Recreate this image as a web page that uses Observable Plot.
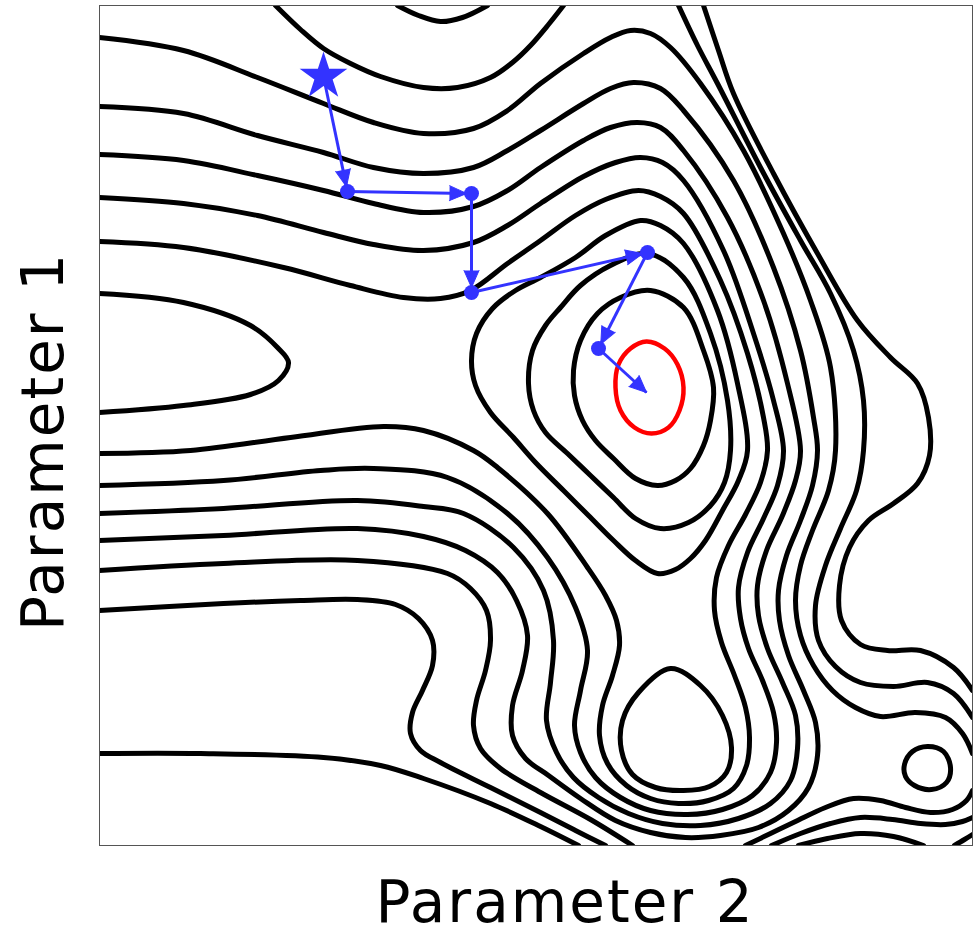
<!DOCTYPE html>
<html><head><meta charset="utf-8">
<script src="https://cdn.jsdelivr.net/npm/d3@7"></script>
<script src="https://cdn.jsdelivr.net/npm/@observablehq/plot@0.6"></script>
<style>html,body{margin:0;padding:0;background:#fff;} svg{display:block;}</style>
</head><body><div id="chart"></div>
<script>
// ---- Contour lines of the loss surface (Parameter 2 = x, Parameter 1 = y) ----
const contourA = [[1.76,8.40],[2.01,8.16],[2.24,7.97],[2.51,7.82],[2.81,7.69],[3.24,7.58],[3.58,7.58],[3.91,7.68],[4.13,7.83],[4.31,8.00],[4.49,8.21],[4.64,8.40]];
const contourB = [[2.98,8.40],[3.19,8.30],[3.41,8.24],[3.63,8.28],[3.88,8.40]];
const contourL1 = [[0.00,8.08],[0.84,7.95],[1.58,7.68],[2.24,7.42],[2.74,7.23],[3.24,7.12],[3.74,7.17],[4.08,7.35],[4.41,7.62],[4.84,7.92],[5.11,8.08],[5.31,8.15],[5.51,8.12],[5.71,7.98],[6.01,7.62],[6.44,6.95],[6.84,6.12],[7.11,5.45],[7.31,4.78],[7.36,3.95],[7.29,3.55],[7.13,3.15],[7.01,2.80],[6.96,2.45],[7.01,2.10],[7.14,1.80],[7.33,1.55],[7.56,1.38],[7.81,1.29],[8.16,1.33],[8.46,1.28],[8.63,1.12],[8.73,0.92]];
const contourL2 = [[0.00,7.39],[0.84,7.32],[1.58,7.10],[2.24,6.93],[2.74,6.78],[3.24,6.72],[3.74,6.78],[4.08,6.95],[4.41,7.15],[4.84,7.42],[5.11,7.57],[5.34,7.63],[5.61,7.57],[5.84,7.35],[6.34,6.65],[6.74,5.78],[7.01,4.95],[7.14,4.28],[7.18,3.95],[7.13,3.60],[7.01,3.25],[6.87,2.90],[6.79,2.55],[6.80,2.25],[6.89,1.90],[7.04,1.55],[7.16,1.23],[7.18,0.90],[7.09,0.58],[6.89,0.35],[6.59,0.18],[6.21,0.10],[5.86,0.08],[5.51,0.13],[5.16,0.25],[4.81,0.47],[4.49,0.70],[4.26,0.87],[4.13,1.10],[4.13,1.40],[4.23,1.75],[4.28,2.10],[4.17,2.45],[3.98,2.73],[3.66,2.95],[3.24,3.09],[2.58,3.17],[1.24,3.10],[0.00,3.05]];
const contourL3 = [[0.00,6.91],[0.84,6.85],[1.58,6.70],[2.24,6.55],[2.74,6.42],[3.24,6.33],[3.74,6.39],[4.08,6.55],[4.41,6.78],[4.84,7.05],[5.11,7.18],[5.38,7.23],[5.61,7.18],[5.84,6.95],[6.28,6.28],[6.64,5.45],[6.88,4.62],[7.01,3.95],[6.96,3.65],[6.83,3.30],[6.67,2.95],[6.58,2.60],[6.59,2.30],[6.68,1.97],[6.83,1.63],[6.96,1.30],[6.98,0.97],[6.91,0.65],[6.71,0.42],[6.39,0.27],[6.01,0.20],[5.63,0.22],[5.29,0.32],[4.99,0.48],[4.74,0.68],[4.57,0.93],[4.47,1.25],[4.51,1.63],[4.54,2.05],[4.44,2.55],[4.14,2.98],[3.64,3.32],[3.24,3.39],[2.58,3.45],[1.24,3.37],[0.00,3.32]];
const contourL4 = [[0.00,6.48],[0.84,6.42],[1.58,6.30],[2.24,6.13],[2.74,6.01],[3.24,5.95],[3.74,6.03],[4.08,6.20],[4.41,6.42],[4.84,6.69],[5.16,6.83],[5.41,6.88],[5.63,6.83],[5.84,6.65],[6.24,5.95],[6.54,5.12],[6.74,4.45],[6.84,3.95],[6.78,3.60],[6.64,3.27],[6.48,2.93],[6.39,2.58],[6.41,2.27],[6.49,1.97],[6.63,1.65],[6.74,1.33],[6.77,1.03],[6.71,0.73],[6.53,0.50],[6.23,0.36],[5.88,0.31],[5.51,0.35],[5.21,0.48],[4.96,0.68],[4.81,0.93],[4.75,1.20],[4.81,1.55],[4.88,1.95],[4.76,2.38],[4.48,2.88],[4.08,3.32],[3.48,3.68],[2.74,3.77],[2.21,3.75],[1.24,3.65],[0.00,3.60]];
const contourL5 = [[0.00,6.04],[0.84,5.98],[1.84,5.78],[2.51,5.60],[3.04,5.48],[3.41,5.47],[3.71,5.55],[4.08,5.82],[4.41,6.05],[4.76,6.30],[5.06,6.46],[5.39,6.55],[5.61,6.49],[5.84,6.32],[6.21,5.65],[6.48,4.92],[6.64,4.28],[6.68,3.95],[6.61,3.63],[6.46,3.31],[6.29,3.00],[6.17,2.68],[6.15,2.35],[6.22,2.03],[6.35,1.70],[6.46,1.38],[6.50,1.08],[6.47,0.80],[6.34,0.57],[6.09,0.45],[5.79,0.42],[5.51,0.47],[5.27,0.60],[5.08,0.82],[5.00,1.10],[5.03,1.40],[5.13,1.70],[5.20,2.00],[5.17,2.25],[5.06,2.50],[4.88,2.78],[4.48,3.32],[3.98,3.78],[3.74,3.95],[3.24,4.15],[2.84,4.19],[1.91,4.08],[0.91,3.95],[0.00,3.92]];
const contourTongue = [[0.00,5.52],[0.84,5.43],[1.51,5.20],[1.78,4.98],[1.89,4.83],[1.79,4.65],[1.51,4.51],[0.84,4.40],[0.00,4.33]];
const contourZ5 = [[0.00,2.75],[1.24,2.82],[2.58,2.85],[3.48,2.72],[3.71,2.57],[3.87,2.35],[3.91,2.05],[3.86,1.75],[3.77,1.45],[3.74,1.20],[3.81,0.97],[4.01,0.77],[4.41,0.53],[4.91,0.26],[5.33,0.00]];
const contourZ6 = [[0.00,2.35],[1.24,2.42],[2.01,2.45],[2.58,2.46],[2.96,2.41],[3.19,2.27],[3.33,2.05],[3.33,1.80],[3.23,1.55],[3.13,1.33],[3.11,1.12],[3.21,0.95],[3.41,0.83],[3.91,0.58],[4.41,0.33],[4.76,0.15],[5.06,0.00]];
const contourZ7 = [[0.00,0.92],[1.01,0.92],[2.24,0.88],[2.81,0.80],[3.24,0.67],[3.91,0.42],[4.41,0.19],[4.79,0.00]];
const contourT1 = [[5.79,8.40],[5.98,8.00],[6.18,7.62],[6.61,6.78],[7.01,6.05],[7.31,5.52],[7.54,4.95],[7.64,4.45],[7.64,3.95],[7.57,3.55],[7.41,3.17],[7.26,2.80],[7.16,2.40],[7.19,2.05],[7.36,1.79],[7.61,1.63],[7.94,1.59],[8.28,1.63],[8.54,1.52],[8.73,1.28]];
const contourT2 = [[6.04,8.40],[6.19,7.95],[6.34,7.52],[6.74,6.72],[7.18,5.92],[7.58,5.25],[7.91,4.88],[8.18,4.62],[8.29,4.28],[8.30,3.90],[8.18,3.62],[7.94,3.42],[7.69,3.25],[7.50,2.98],[7.40,2.60],[7.42,2.25],[7.61,2.01],[7.88,1.95],[8.21,1.95],[8.54,1.78],[8.73,1.55]];
const contourR1 = [[6.46,0.00],[6.71,0.12],[6.96,0.24],[7.26,0.38],[7.54,0.47],[7.81,0.45],[8.06,0.38],[8.31,0.33],[8.53,0.36],[8.67,0.45],[8.73,0.55]];
const contourR2 = [[6.72,0.00],[7.01,0.12],[7.31,0.22],[7.61,0.28],[7.93,0.26],[8.21,0.22],[8.46,0.21],[8.63,0.24],[8.73,0.28]];
const contourR3 = [[6.99,0.00],[7.28,0.07],[7.61,0.12],[7.94,0.09],[8.24,0.00]];
const contourR4 = [[8.55,0.00],[8.65,0.06],[8.73,0.11]];
// closed contours
const contourH = [[5.41,6.25],[5.61,6.20],[5.84,6.02],[6.18,5.35],[6.38,4.62],[6.48,3.95],[6.39,3.65],[6.23,3.35],[6.06,3.05],[5.91,2.87],[5.76,2.76],[5.58,2.72],[5.36,2.85],[5.14,3.05],[4.89,3.30],[4.64,3.55],[4.36,3.83],[4.14,4.08],[3.91,4.33],[3.76,4.60],[3.72,4.85],[3.77,5.12],[3.93,5.37],[4.16,5.55],[4.41,5.68],[4.76,5.88],[5.06,6.10]];
const contourC2 = [[5.48,5.92],[5.84,5.68],[6.11,5.12],[6.28,4.45],[6.31,3.95],[6.25,3.63],[6.11,3.40],[5.89,3.23],[5.61,3.17],[5.36,3.27],[5.14,3.48],[4.91,3.70],[4.68,3.92],[4.46,4.13],[4.34,4.35],[4.29,4.62],[4.33,4.95],[4.46,5.20],[4.61,5.38],[4.81,5.60],[5.11,5.80]];
const contourC1 = [[5.51,5.55],[5.84,5.38],[6.04,4.95],[6.14,4.58],[6.11,4.25],[6.04,4.00],[5.91,3.77],[5.76,3.65],[5.58,3.60],[5.36,3.67],[5.14,3.87],[4.96,4.05],[4.83,4.25],[4.75,4.50],[4.74,4.75],[4.81,5.05],[4.98,5.32],[5.21,5.48]];
const contourM1 = [[5.71,1.77],[6.01,1.60],[6.23,1.30],[6.32,0.98],[6.27,0.73],[6.10,0.59],[5.84,0.55],[5.56,0.58],[5.33,0.71],[5.22,0.95],[5.23,1.25],[5.39,1.53]];
const contourS1 = [[8.05,0.81],[8.13,0.94],[8.28,0.99],[8.44,0.94],[8.51,0.78],[8.47,0.63],[8.32,0.56],[8.15,0.60],[8.06,0.69]];
// target level (red)
const targetLevel = [[5.84,4.58],[5.80,4.35],[5.69,4.18],[5.52,4.12],[5.35,4.18],[5.21,4.35],[5.16,4.58],[5.19,4.81],[5.31,4.97],[5.47,5.04],[5.65,4.97],[5.78,4.81]];

// ---- Optimisation path (blue): start (star), visited points, final arrow tip ----
const pathX = [2.24, 2.48, 3.72, 3.72, 5.48, 4.99, 5.47];
const pathY = [7.69, 6.54, 6.52, 5.53, 5.93, 4.97, 4.53];

// ---- Axis titles ----
const xTitle = ["Parameter 2"];
const yTitle = ["Parameter 1"];

const BLUE = "#3333ff";
const tipGap = 0.05;

const openSet = [["A",contourA],["B",contourB],["L1",contourL1],["L2",contourL2],["L3",contourL3],["L4",contourL4],["L5",contourL5],["Tongue",contourTongue],["Z5",contourZ5],["Z6",contourZ6],["Z7",contourZ7],["T1",contourT1],["T2",contourT2],["R1",contourR1],["R2",contourR2],["R3",contourR3],["R4",contourR4]];
const closedSet = [["H",contourH],["C2",contourC2],["C1",contourC1],["M1",contourM1],["S1",contourS1]];
const toRows = set => set.flatMap(([id, pts]) => pts.map(([x, y]) => ({id, x, y})));
const openRows = toRows(openSet);
const closedRows = toRows(closedSet);
const redRows = targetLevel.map(([x, y]) => ({x, y}));

const n = pathX.length;
const segs = d3.range(n - 1).map(i => {
  const x1 = pathX[i], y1 = pathY[i], x2 = pathX[i + 1], y2 = pathY[i + 1];
  const dx = x2 - x1, dy = y2 - y1, len = Math.hypot(dx, dy);
  const s = i < n - 2 ? tipGap : 0;
  return {x1, y1, x2: x2 - dx / len * s, y2: y2 - dy / len * s, angle: Math.atan2(dx, dy) * 180 / Math.PI};
});
const visited = d3.range(1, n - 1).map(i => ({x: pathX[i], y: pathY[i]}));
const start = [{x: pathX[0], y: pathY[0]}];

const chart = Plot.plot({
  width: 978,
  height: 935,
  marginLeft: 99,
  marginRight: 6,
  marginTop: 5,
  marginBottom: 90,
  x: {domain: [0, 8.73], axis: null},
  y: {domain: [0, 8.40], axis: null},
  marks: [
    Plot.line(openRows, {x: "x", y: "y", z: "id", curve: "catmull-rom", stroke: "black", strokeWidth: 5, clip: true}),
    Plot.line(closedRows, {x: "x", y: "y", z: "id", curve: "catmull-rom-closed", stroke: "black", strokeWidth: 5, clip: true}),
    Plot.line(redRows, {x: "x", y: "y", curve: "catmull-rom-closed", stroke: "#ff0000", strokeWidth: 4.5}),
    Plot.link(segs, {x1: "x1", y1: "y1", x2: "x2", y2: "y2", stroke: BLUE, strokeWidth: 3}),
    Plot.vector(segs, {x: "x2", y: "y2", rotate: "angle", length: 17, anchor: "end", shape: "spike", r: 7.5, fill: BLUE, stroke: BLUE, strokeWidth: 1}),
    Plot.dot(visited, {x: "x", y: "y", r: 7.5, fill: BLUE}),
    Plot.dot(start, {x: "x", y: "y", r: 15, symbol: "star", fill: BLUE}),
    Plot.frame({stroke: "#555", strokeWidth: 1}),
    Plot.text(xTitle, {frameAnchor: "bottom", text: d => d, textAnchor: "middle", lineAnchor: "bottom", dx: 29, dy: 76, fontSize: 58, fontFamily: "DejaVu Sans", fill: "black"}),
    Plot.text(yTitle, {frameAnchor: "left", text: d => d, rotate: -90, textAnchor: "middle", lineAnchor: "bottom", dx: -37, dy: 16, fontSize: 58, fontFamily: "DejaVu Sans", fill: "black"})
  ]
});
d3.select(chart).selectAll('g[aria-label="text"] text').attr("letter-spacing", "2px");
document.getElementById("chart").appendChild(chart);
</script>
</body></html>
